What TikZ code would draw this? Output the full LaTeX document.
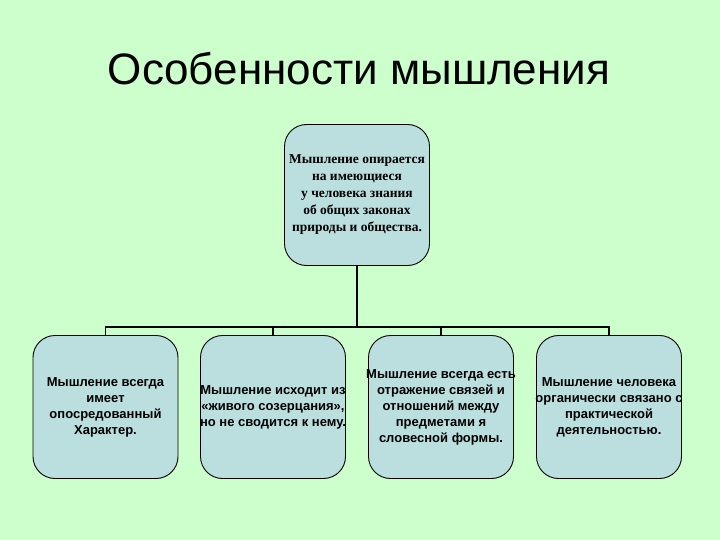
\documentclass[tikz,border=0pt]{standalone}
\usepackage{fontspec}
\setmainfont{Liberation Sans}
\newfontfamily\serifb{Liberation Serif}
\definecolor{bg}{HTML}{CCFFCC}
\definecolor{boxfill}{HTML}{BBDEDF}
\begin{document}
\begin{tikzpicture}[x=1pt,y=-1pt,
  card/.style={draw=black,line width=0.9pt,fill=boxfill,rounded corners=22pt,
    minimum width=145pt,minimum height=143pt,inner sep=0pt},
  btext/.style={font=\fontsize{13}{16}\selectfont\bfseries,align=center,inner sep=0pt},
  ttext/.style={font=\serifb\fontsize{13.5}{17}\selectfont\bfseries,align=center,inner sep=0pt},
  link/.style={line width=1.6pt}]
\fill[bg] (0,0) rectangle (720,540);
\useasboundingbox (0,0) rectangle (720,540);
\node (title) at (359,69) {\fontsize{44}{48}\selectfont Особенности мышления};
\node[card,minimum height=141pt] (top) at (357,195) {};
\node[ttext] (ttop) at (top) {Мышление опирается\\на имеющиеся\\у человека знания\\об общих законах\\природы и общества.};
\node[card] (b1) at (105.5,407) {};
\node[btext] (t1) at (b1) {Мышление всегда\\имеет\\опосредованный\\Характер.};
\node[card] (b2) at (273,407) {};
\node[btext] (t2) at (b2) {Мышление исходит из\\«живого созерцания»,\\но не сводится к нему.};
\node[card] (b3) at (441,407) {};
\node[btext] (t3) at (b3) {Мышление всегда есть\\отражение связей и\\отношений между\\предметами я\\словесной формы.};
\node[card] (b4) at (609,407) {};
\node[btext] (t4) at (b4) {Мышление человека\\органически связано с\\практической\\деятельностью.};
\coordinate (hub) at (357,327);
\draw[link] (top.south) -- (hub);
\draw[link] (b1.north) -- (b1.north |- hub) -- (b4.north |- hub) -- (b4.north);
\draw[link] (b2.north) -- (b2.north |- hub);
\draw[link] (b3.north) -- (b3.north |- hub);
\end{tikzpicture}
\end{document}
